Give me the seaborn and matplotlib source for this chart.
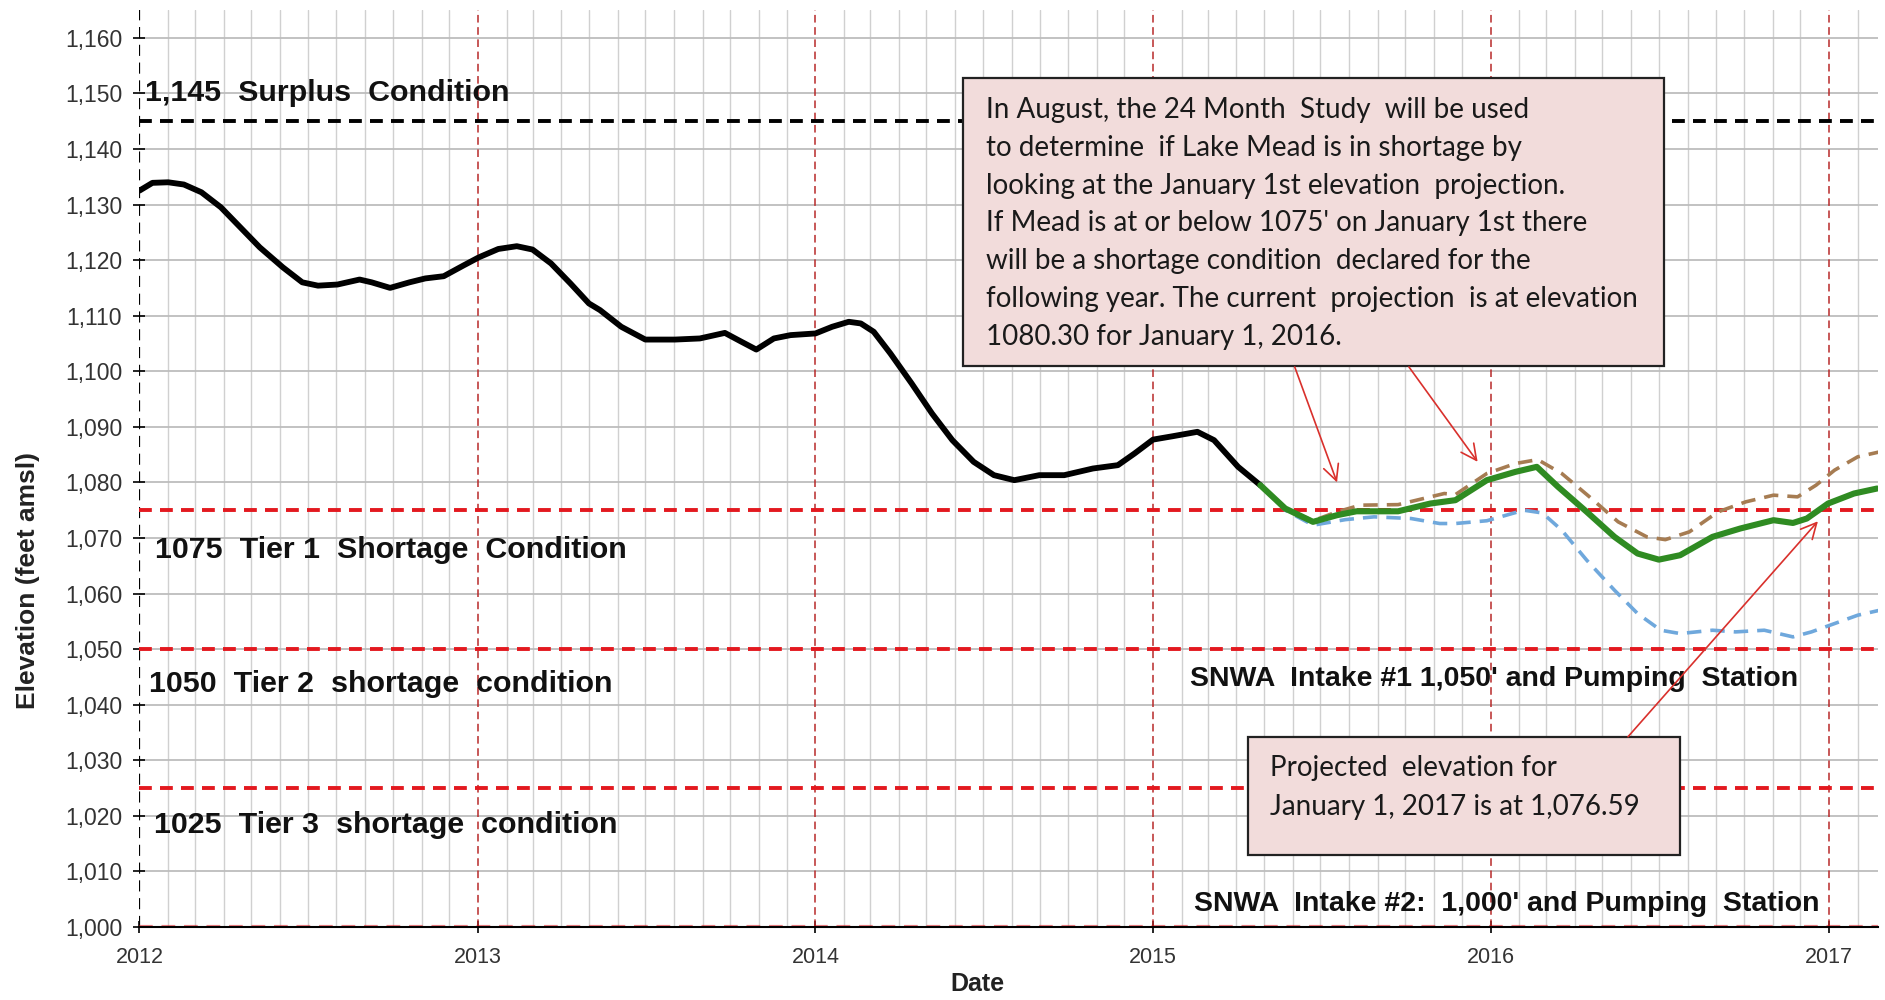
import pandas as pd
import matplotlib
matplotlib.use("Agg")
import matplotlib.pyplot as plt
import matplotlib.dates as mdates
from matplotlib.patches import Rectangle
from matplotlib.ticker import FuncFormatter
import seaborn as sns

# ---------------- data ----------------
hist_dates = ["2012-01-01", "2012-01-15", "2012-02-01", "2012-02-18", "2012-03-08", "2012-03-29",
              "2012-04-19", "2012-05-10", "2012-06-04", "2012-06-25", "2012-07-12", "2012-08-02",
              "2012-08-26", "2012-09-08", "2012-09-28", "2012-10-19", "2012-11-05", "2012-11-25",
              "2012-12-16", "2013-01-02", "2013-01-23", "2013-02-12", "2013-03-01", "2013-03-21",
              "2013-04-11", "2013-05-01", "2013-05-13", "2013-06-05", "2013-07-01", "2013-08-02",
              "2013-08-29", "2013-09-25", "2013-10-13", "2013-10-29", "2013-11-17", "2013-12-05",
              "2014-01-01", "2014-01-19", "2014-02-06", "2014-02-19", "2014-03-05", "2014-03-23",
              "2014-04-15", "2014-05-07", "2014-05-29", "2014-06-21", "2014-07-13", "2014-08-04",
              "2014-08-31", "2014-09-27", "2014-10-28", "2014-11-24", "2014-12-12", "2015-01-01",
              "2015-01-22", "2015-02-18", "2015-03-08", "2015-04-03", "2015-04-27"]
hist_elev = [1132.5, 1133.9, 1134.0, 1133.6, 1132.2, 1129.5,
             1125.9, 1122.3, 1118.7, 1116.0, 1115.4, 1115.6,
             1116.5, 1116.0, 1115.0, 1116.0, 1116.7, 1117.1,
             1119.0, 1120.5, 1122.0, 1122.5, 1121.9, 1119.4,
             1115.8, 1112.2, 1111.0, 1108.0, 1105.7, 1105.7,
             1105.9, 1106.9, 1105.3, 1103.9, 1105.9, 1106.5,
             1106.8, 1108.0, 1108.9, 1108.6, 1107.1, 1103.2,
             1097.8, 1092.4, 1087.6, 1083.7, 1081.3, 1080.4,
             1081.3, 1081.3, 1082.5, 1083.1, 1085.2, 1087.7,
             1088.3, 1089.1, 1087.6, 1082.8, 1079.5]

most_dates = ["2015-04-27", "2015-05-24", "2015-06-23", "2015-07-19", "2015-08-09", "2015-09-23",
              "2015-10-28", "2015-11-24", "2015-12-28", "2016-01-28", "2016-02-20", "2016-03-14",
              "2016-04-14", "2016-05-14", "2016-06-08", "2016-07-01", "2016-07-24", "2016-08-28",
              "2016-09-27", "2016-11-02", "2016-11-23", "2016-12-08", "2016-12-31", "2017-01-28",
              "2017-02-22"]
most_elev = [1079.5, 1075.3, 1072.9, 1074.1, 1074.8, 1074.8,
             1076.2, 1076.8, 1080.4, 1081.9, 1082.8, 1079.2,
             1074.7, 1070.2, 1067.2, 1066.1, 1066.9, 1070.2,
             1071.7, 1073.2, 1072.7, 1073.5, 1076.2, 1078.0,
             1078.9]

max_dates = ["2015-04-27", "2015-05-24", "2015-06-23", "2015-07-19", "2015-08-13", "2015-09-23",
             "2015-11-12", "2015-11-24", "2015-12-28", "2016-01-28", "2016-02-21", "2016-03-18",
             "2016-04-17", "2016-05-18", "2016-06-18", "2016-07-08", "2016-08-03", "2016-09-03",
             "2016-10-03", "2016-11-02", "2016-11-28", "2016-12-18", "2017-01-07", "2017-02-01",
             "2017-02-25"]
max_elev = [1079.5, 1075.3, 1073.1, 1074.7, 1075.9, 1076.0,
            1078.0, 1077.8, 1081.6, 1083.4, 1084.1, 1081.6,
            1077.4, 1072.9, 1070.2, 1069.7, 1071.1, 1074.7,
            1076.5, 1077.7, 1077.4, 1079.5, 1082.2, 1084.6,
            1085.5]

min_dates = ["2015-04-27", "2015-05-24", "2015-06-23", "2015-07-28", "2015-08-28", "2015-10-07",
             "2015-11-07", "2015-11-24", "2015-12-28", "2016-02-06", "2016-02-26", "2016-03-18",
             "2016-04-14", "2016-05-14", "2016-06-08", "2016-07-03", "2016-07-24", "2016-08-28",
             "2016-09-22", "2016-10-23", "2016-11-23", "2016-12-13", "2017-01-07", "2017-02-01",
             "2017-02-25"]
min_elev = [1079.5, 1075.0, 1072.3, 1073.3, 1073.8, 1073.5,
            1072.6, 1072.6, 1073.1, 1075.0, 1074.5, 1071.4,
            1066.0, 1060.6, 1056.4, 1053.4, 1052.8, 1053.4,
            1053.1, 1053.4, 1052.2, 1053.1, 1054.6, 1056.1,
            1057.0]

surplus_level = 1145
tier_levels = [1075, 1050, 1025, 1000]
year_lines = ["2013-01-01", "2014-01-01", "2015-01-01", "2016-01-01", "2017-01-01"]
y_ticks = list(range(1000, 1161, 10))

label_surplus = "1,145  Surplus  Condition"
label_tier1 = "1075  Tier 1  Shortage  Condition"
label_tier2 = "1050  Tier 2  shortage  condition"
label_tier3 = "1025  Tier 3  shortage  condition"
label_intake1 = "SNWA  Intake #1 1,050' and Pumping  Station"
label_intake2 = "SNWA  Intake #2:  1,000' and Pumping  Station"
box1_lines = ["In August, the 24 Month  Study  will be used",
              "to determine  if Lake Mead is in shortage by",
              "looking at the January 1st elevation  projection.",
              "If Mead is at or below 1075' on January 1st there",
              "will be a shortage condition  declared for the",
              "following year. The current  projection  is at elevation",
              "1080.30 for January 1, 2016."]
box2_lines = ["Projected  elevation for",
              "January 1, 2017 is at 1,076.59"]

# ---------------- style ----------------
sns.set_theme(style="white")
plt.rcParams["font.family"] = ["Liberation Sans", "DejaVu Sans"]

fig = plt.figure(figsize=(18.85, 10), dpi=100)
ax = fig.add_axes([0.074, 0.073, 0.9223, 0.917])

hist = pd.DataFrame({"date": pd.to_datetime(hist_dates), "elev": hist_elev})
most = pd.DataFrame({"date": pd.to_datetime(most_dates), "elev": most_elev})
mx = pd.DataFrame({"date": pd.to_datetime(max_dates), "elev": max_elev})
mn = pd.DataFrame({"date": pd.to_datetime(min_dates), "elev": min_elev})

# grid
ax.set_ylim(1000, 1165)
ax.set_xlim(pd.Timestamp("2012-01-01"), pd.Timestamp("2017-02-23"))
ax.xaxis.set_major_locator(mdates.YearLocator())
ax.xaxis.set_major_formatter(mdates.DateFormatter("%Y"))
ax.xaxis.set_minor_locator(mdates.MonthLocator())
ax.set_yticks(y_ticks)
ax.yaxis.set_major_formatter(FuncFormatter(lambda v, p: f"{v:,.0f}"))
ax.grid(which="minor", axis="x", color="#d0d0d0", lw=1.0, zorder=0)
ax.grid(which="major", axis="y", color="#bdbdbd", lw=1.3, zorder=0)
ax.grid(which="major", axis="x", visible=False)
ax.set_axisbelow(True)

for yl in year_lines:
    ax.axvline(pd.Timestamp(yl), color="#b82a2a", lw=1.1, ls=(0, (5, 3)), zorder=1)
ax.axvline(pd.Timestamp("2012-01-01"), color="black", lw=1.6, ls=(0, (5, 3)), zorder=1)

# threshold lines
ax.axhline(surplus_level, color="black", lw=2.8, ls=(0, (3.3, 2.1)), zorder=2)
for lvl in tier_levels:
    if lvl == 1000:
        ax.axhline(lvl, color="#e3191f", lw=3.0, ls=(0, (3.3, 2.1)), alpha=0.55, zorder=2)
    else:
        ax.axhline(lvl, color="#e3191f", lw=2.8, ls=(0, (3.3, 2.1)), zorder=2)

# data lines
sns.lineplot(data=hist, x="date", y="elev", ax=ax, color="black", lw=4.2, zorder=4,
             solid_joinstyle="round", solid_capstyle="round")
sns.lineplot(data=mn, x="date", y="elev", ax=ax, color="#6fa8dc", lw=2.6,
             linestyle=(0, (4, 2.5)), zorder=3)
sns.lineplot(data=mx, x="date", y="elev", ax=ax, color="#a67c52", lw=2.6,
             linestyle=(0, (4, 2.5)), zorder=3)
sns.lineplot(data=most, x="date", y="elev", ax=ax, color="#2f8b22", lw=4.4, zorder=4,
             solid_joinstyle="round", solid_capstyle="round")

# spines & ticks
for s in ["top", "right", "left"]:
    ax.spines[s].set_visible(False)
ax.spines["bottom"].set_color("black")
ax.spines["bottom"].set_linewidth(1.5)
ax.spines["bottom"].set_zorder(5)
ax.tick_params(axis="y", which="major", direction="inout", length=9, width=1.2,
               color="black", labelsize=16.5, labelcolor="#333333", pad=8, left=True)
ax.tick_params(axis="x", which="major", direction="inout", length=9, width=1.2,
               color="black", labelsize=15.5, labelcolor="#333333", pad=10, bottom=True)
ax.tick_params(axis="x", which="minor", length=0)

ax.set_xlabel("Date", fontsize=18, fontweight="bold", color="#222222")
ax.set_ylabel("Elevation (feet amsl)", fontsize=19, fontweight="bold", color="#222222")
ax.xaxis.set_label_coords(0.4817, -0.049)
ax.yaxis.set_label_coords(-0.0572, 0.378)

# threshold labels
ytf = ax.get_yaxis_transform()
lab_kw = dict(fontsize=21.9, fontweight="bold", color="#111111", va="center", ha="left",
              transform=ytf, zorder=6)
ax.text(0.0033, 1150.0, label_surplus, **lab_kw)
ax.text(0.0089, 1067.8, label_tier1, **lab_kw)
ax.text(0.0055, 1043.8, label_tier2, **lab_kw)
ax.text(0.0083, 1018.3, label_tier3, **lab_kw)
lab_kw2 = dict(lab_kw, fontsize=20.5)
ax.text(0.6041, 1044.7, label_intake1, **lab_kw2)
ax.text(0.6068, 1004.1, label_intake2, **lab_kw2)

# annotation boxes
box_kw = dict(transform=ax.transAxes, facecolor="#f2dcdb", edgecolor="#222222", lw=1.6, zorder=7)
ax.add_patch(Rectangle((0.4739, 0.6118), 0.8769 - 0.4739, 0.9255 - 0.6118, **box_kw))
ax.add_patch(Rectangle((0.6378, 0.0785), 0.886 - 0.6378, 0.2075 - 0.0785, **box_kw))

bt_kw = dict(transform=ax.transAxes, fontsize=20, color="#1a1a1a", va="center", ha="left",
             family=["Lato", "DejaVu Sans"], zorder=8)
line_step = 37.8 / 917
for i, t in enumerate(box1_lines):
    ax.text(0.4869, 0.891 - i * line_step, t, **bt_kw)
ax.text(0.650, 0.1731, box2_lines[0], **bt_kw)
ax.text(0.650, 0.1312, box2_lines[1], **bt_kw)

# arrows
arr = dict(arrowstyle="->", color="#d9302c", lw=1.2, mutation_scale=28, shrinkA=0, shrinkB=0)
ax.annotate("", xy=(mdates.date2num(pd.Timestamp("2015-07-19")), 1080.0), xycoords="data",
            xytext=(0.6645, 0.6107), textcoords="axes fraction", arrowprops=arr, zorder=8)
ax.annotate("", xy=(mdates.date2num(pd.Timestamp("2015-12-18")), 1083.7), xycoords="data",
            xytext=(0.7302, 0.6107), textcoords="axes fraction", arrowprops=arr, zorder=8)
ax.annotate("", xy=(mdates.date2num(pd.Timestamp("2016-12-20")), 1073.0), xycoords="data",
            xytext=(0.8562, 0.2075), textcoords="axes fraction", arrowprops=arr, zorder=8)

fig.savefig("out.png", dpi=100, facecolor="white")
